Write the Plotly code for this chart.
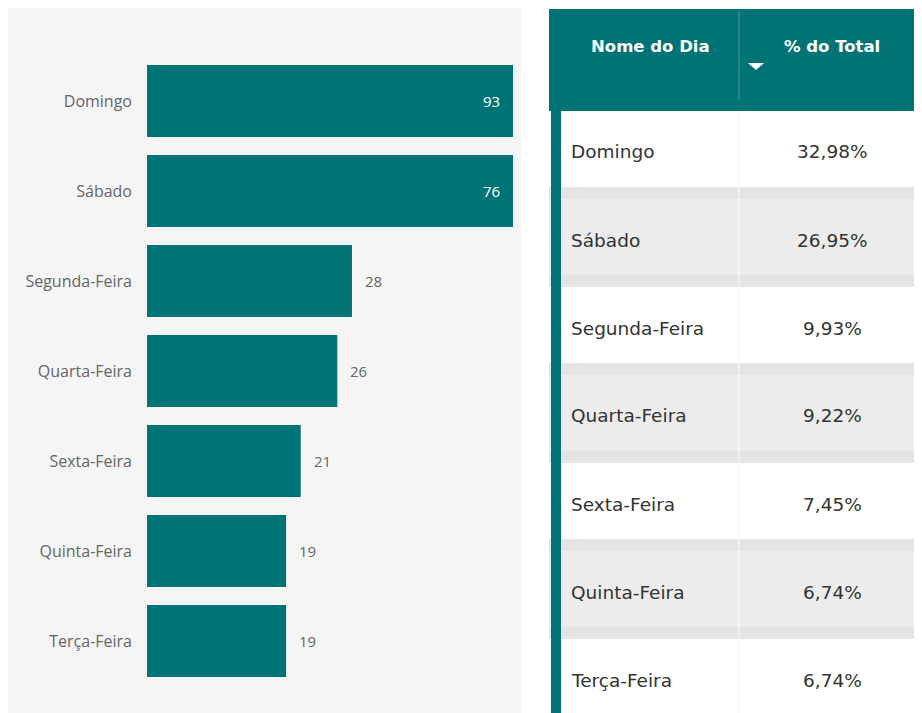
import plotly.graph_objects as go

# ---------------- data ----------------
dias = ["Domingo", "Sábado", "Segunda-Feira", "Quarta-Feira",
        "Sexta-Feira", "Quinta-Feira", "Terça-Feira"]
contagens = [93, 76, 28, 26, 21, 19, 19]
percentuais = ["32,98%", "26,95%", "9,93%", "9,22%", "7,45%", "6,74%", "6,74%"]
cabecalho = ["Nome do Dia", "% do Total"]
eixo_max = 50

# ---------------- style ----------------
OFF = 8                 # page body margin
W, H = 922, 713 - OFF   # figure size
TEAL = "#007377"
PANEL = "#f5f5f5"
ROW_GRAY = "#ececec"
BAND = "#e4e4e4"
LABEL = "#666666"
TXT = "#333333"
CHART_FONT = "Open Sans"
TABLE_FONT = "DejaVu Sans"


def px(x):
    return (x - OFF) / W


def py(y):
    return 1 - (y - OFF) / H


fig = go.Figure(
    go.Bar(
        x=contagens,
        y=dias,
        orientation="h",
        marker=dict(color=TEAL, line=dict(width=0)),
        hoverinfo="skip",
    )
)

shapes = []
annotations = []

# left panel background
shapes.append(dict(type="rect", xref="paper", yref="paper", layer="below",
                   x0=px(8), x1=px(521), y0=py(713), y1=py(8),
                   fillcolor=PANEL, line=dict(width=0)))

# bar value labels
for d, v in zip(dias, contagens):
    if v > eixo_max:
        annotations.append(dict(x=eixo_max, y=d, xref="x", yref="y", text=str(v),
                                showarrow=False, xanchor="right", xshift=-11,
                                font=dict(family=CHART_FONT, size=15, color="white")))
    else:
        annotations.append(dict(x=v, y=d, xref="x", yref="y", text=str(v),
                                showarrow=False, xanchor="left", xshift=11,
                                font=dict(family=CHART_FONT, size=15, color=LABEL)))

# ---------------- table ----------------
HEAD_TOP, HEAD_BOT = 9, 111
PITCH, CONTENT = 88, 76
X_LEFT, X_RIGHT, X_DIV = 549, 930, 739

# header
shapes.append(dict(type="rect", xref="paper", yref="paper",
                   x0=px(X_LEFT), x1=px(X_RIGHT), y0=py(HEAD_BOT), y1=py(HEAD_TOP),
                   fillcolor=TEAL, line=dict(width=0)))
shapes.append(dict(type="line", xref="paper", yref="paper",
                   x0=px(X_DIV), x1=px(X_DIV), y0=py(100), y1=py(11),
                   line=dict(color="rgba(255,255,255,0.3)", width=1)))
# sort arrow
shapes.append(dict(type="path", xref="paper", yref="paper",
                   path=f"M {px(748)} {py(63)} L {px(764)} {py(63)} L {px(756)} {py(70)} Z",
                   fillcolor="white", line=dict(width=0)))
annotations.append(dict(x=px(650), y=py(47), xref="paper", yref="paper", text=cabecalho[0],
                        showarrow=False, xanchor="center", yanchor="middle",
                        font=dict(family=TABLE_FONT, size=16.5, color="white", weight="bold")))
annotations.append(dict(x=px(832), y=py(47), xref="paper", yref="paper", text=cabecalho[1],
                        showarrow=False, xanchor="center", yanchor="middle",
                        font=dict(family=TABLE_FONT, size=16.5, color="white", weight="bold")))

# body rows
for i, (d, p) in enumerate(zip(dias, percentuais)):
    top = HEAD_BOT + PITCH * i
    bot = min(top + CONTENT, 713)
    fill = "white" if i % 2 == 0 else ROW_GRAY
    shapes.append(dict(type="rect", xref="paper", yref="paper",
                       x0=px(X_LEFT), x1=px(X_RIGHT), y0=py(bot), y1=py(top),
                       fillcolor=fill, line=dict(width=0)))
    if top + PITCH <= 713:
        shapes.append(dict(type="rect", xref="paper", yref="paper",
                           x0=px(X_LEFT), x1=px(X_RIGHT), y0=py(top + PITCH), y1=py(bot),
                           fillcolor=BAND, line=dict(width=0)))
    cy = py(top + CONTENT / 2 + 3)
    annotations.append(dict(x=px(569), y=cy, xref="paper", yref="paper", text=d,
                            showarrow=False, xanchor="left", yanchor="middle",
                            font=dict(family=TABLE_FONT, size=18.5, color=TXT)))
    annotations.append(dict(x=px(832), y=cy, xref="paper", yref="paper", text=p,
                            showarrow=False, xanchor="center", yanchor="middle",
                            font=dict(family=TABLE_FONT, size=18.5, color=TXT)))

# column divider in body
shapes.append(dict(type="line", xref="paper", yref="paper",
                   x0=px(X_DIV), x1=px(X_DIV), y0=py(713), y1=py(HEAD_BOT),
                   line=dict(color="#f7f7f7", width=1.5)))
# left accent strip
shapes.append(dict(type="rect", xref="paper", yref="paper",
                   x0=px(551), x1=px(561), y0=py(713), y1=py(HEAD_BOT),
                   fillcolor=TEAL, line=dict(width=0)))

fig.update_layout(
    width=W, height=H,
    margin=dict(l=0, r=0, t=0, b=0),
    paper_bgcolor="white",
    plot_bgcolor="rgba(0,0,0,0)",
    showlegend=False,
    bargap=0.2,
    xaxis=dict(domain=[px(147), px(513)], range=[0, eixo_max], visible=False, fixedrange=True),
    yaxis=dict(domain=[py(686), py(56)], categoryorder="array", categoryarray=dias,
               autorange="reversed", showgrid=False, zeroline=False, showline=False,
               ticks="", ticklabelstandoff=14,
               tickfont=dict(family=CHART_FONT, size=16, color=LABEL), fixedrange=True),
    shapes=shapes,
    annotations=annotations,
)

fig.write_html("out.html")
